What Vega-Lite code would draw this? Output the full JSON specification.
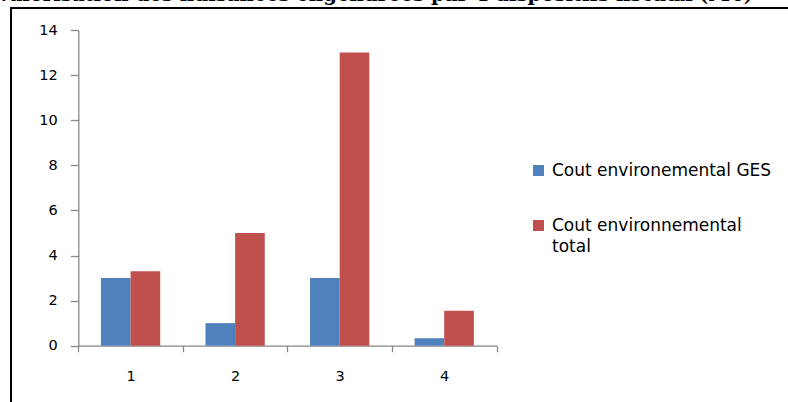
{
  "$schema": "https://vega.github.io/schema/vega-lite/v6.json",
  "autosize": {"type": "none"},
  "width": 783,
  "height": 400,
  "padding": {"left": 11, "top": 8, "right": -6, "bottom": -6},
  "background": "white",
  "title": {
    "text": "Valorisation des nuisances engendrées par 4 dispositifs fiscaux (M€)",
    "font": "DejaVu Serif",
    "fontWeight": "bold",
    "fontSize": 19.7,
    "color": "black",
    "anchor": "start",
    "frame": "group",
    "baseline": "alphabetic",
    "offset": 0,
    "dx": -15,
    "dy": 13
  },
  "data": {
    "values": [
      {"dispositif": "1", "serie": "Cout environemental GES", "valeur": 3},
      {"dispositif": "1", "serie": "Cout environnemental total", "valeur": 3.3},
      {"dispositif": "2", "serie": "Cout environemental GES", "valeur": 1},
      {"dispositif": "2", "serie": "Cout environnemental total", "valeur": 5},
      {"dispositif": "3", "serie": "Cout environemental GES", "valeur": 3},
      {"dispositif": "3", "serie": "Cout environnemental total", "valeur": 13},
      {"dispositif": "4", "serie": "Cout environemental GES", "valeur": 0.33},
      {"dispositif": "4", "serie": "Cout environnemental total", "valeur": 1.55}
    ]
  },
  "mark": {"type": "bar"},
  "encoding": {
    "x": {
      "field": "dispositif",
      "type": "nominal",
      "sort": ["1", "2", "3", "4"],
      "scale": {"range": [67.3, 485.5], "paddingInner": 0, "paddingOuter": 0},
      "axis": {
        "title": null,
        "labelAngle": 0,
        "offset": -62.3,
        "tickBand": "extent",
        "tickSize": 6,
        "labelPadding": 18,
        "domainColor": "#868686",
        "tickColor": "#868686",
        "domainWidth": 1.3,
        "tickWidth": 1.3,
        "labelFont": "DejaVu Sans",
        "labelFontSize": 14.5,
        "labelColor": "black",
        "grid": false
      }
    },
    "xOffset": {
      "field": "serie",
      "type": "nominal",
      "scale": {"paddingInner": 0, "paddingOuter": 0.764}
    },
    "y": {
      "field": "valeur",
      "type": "quantitative",
      "scale": {"domain": [0, 14], "range": [337.7, 22], "nice": false, "zero": true},
      "axis": {
        "title": null,
        "values": [0, 2, 4, 6, 8, 10, 12, 14],
        "format": "d",
        "offset": -67.3,
        "tickSize": 8,
        "labelPadding": 13,
        "domainColor": "#868686",
        "tickColor": "#868686",
        "domainWidth": 1.3,
        "tickWidth": 1.3,
        "labelFont": "DejaVu Sans",
        "labelFontSize": 14.5,
        "labelColor": "black",
        "grid": false
      }
    },
    "color": {
      "field": "serie",
      "type": "nominal",
      "scale": {
        "domain": ["Cout environemental GES", "Cout environnemental total"],
        "range": ["#4F81BD", "#C0504D"]
      },
      "legend": {
        "title": null,
        "orient": "none",
        "legendX": 519,
        "legendY": 154,
        "symbolType": "square",
        "symbolSize": 120,
        "symbolStrokeWidth": 0,
        "labelFont": "DejaVu Sans",
        "labelFontSize": 17,
        "labelColor": "black",
        "labelOffset": 5,
        "labelLimit": 400,
        "rowPadding": 37,
        "labelExpr": "datum.label == 'Cout environnemental total' ? ['Cout environnemental', 'total'] : datum.label"
      }
    }
  },
  "config": {
    "view": {"stroke": "black", "strokeWidth": 2},
    "style": {"guide-label": {"lineHeight": 21}}
  }
}
